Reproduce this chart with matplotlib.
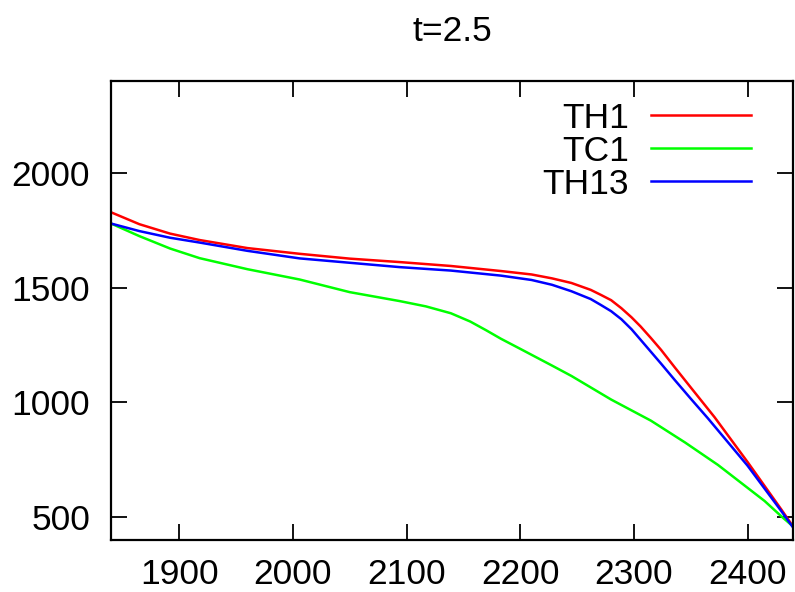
import matplotlib
matplotlib.use("Agg")
import matplotlib.pyplot as plt

plt.rcParams['font.family'] = ['Liberation Sans', 'DejaVu Sans']

# Temperature profiles at t=2.5
x_th1 = [1840, 1865, 1892, 1918, 1960, 2006, 2050, 2094, 2139, 2183, 2210, 2228,
         2245, 2262, 2271, 2280, 2289, 2298, 2306, 2315, 2324, 2336, 2350, 2371,
         2400, 2430, 2441]
th1 = [1828, 1776, 1735, 1707, 1672, 1647, 1626, 1611, 1594, 1572, 1557, 1540,
       1520, 1490, 1468, 1445, 1410, 1370, 1330, 1280, 1228, 1152, 1065, 935,
       740, 531, 452]

x_tc1 = [1840, 1865, 1892, 1918, 1960, 2006, 2050, 2094, 2117, 2139, 2156, 2170,
         2183, 2200, 2228, 2245, 2280, 2315, 2345, 2374, 2415, 2430, 2441]
tc1 = [1779, 1724, 1670, 1628, 1580, 1535, 1480, 1441, 1418, 1388, 1352, 1314,
       1277, 1233, 1160, 1115, 1012, 920, 825, 727, 570, 502, 455]

x_th13 = [1840, 1865, 1892, 1918, 1960, 2006, 2050, 2094, 2139, 2183, 2210, 2228,
          2245, 2262, 2271, 2280, 2289, 2298, 2306, 2324, 2336, 2350, 2365, 2400,
          2430, 2441]
th13 = [1779, 1746, 1717, 1696, 1660, 1627, 1608, 1589, 1574, 1552, 1533, 1512,
        1484, 1450, 1424, 1397, 1362, 1318, 1272, 1168, 1097, 1016, 931, 724,
        524, 448]

x_ticks = [1900, 2000, 2100, 2200, 2300, 2400]
y_ticks = [500, 1000, 1500, 2000]

fig = plt.figure(figsize=(7.95, 5.92), dpi=100)
ax = fig.add_axes([111 / 795, 1 - 540 / 592, (793 - 111) / 795, (540 - 81) / 592])

ax.plot(x_th1, th1, color='#ff0000', lw=1.8, label='TH1')
ax.plot(x_tc1, tc1, color='#00ff00', lw=1.8, label='TC1')
ax.plot(x_th13, th13, color='#0000ff', lw=1.8, label='TH13')

ax.set_xlim(1840, 2440)
ax.set_ylim(400, 2400)
ax.set_xticks(x_ticks)
ax.set_yticks(y_ticks)

fs = 25.5
ax.tick_params(direction='in', length=11.5, width=1.3, labelsize=fs,
               top=True, right=True, pad=15)
ax.tick_params(axis='x', pad=13)
for s in ax.spines.values():
    s.set_linewidth(1.6)

ax.set_title('t=2.5', fontsize=fs, pad=29)

leg = ax.legend(loc='upper right', bbox_to_anchor=(0.938, 0.955),
                frameon=False, markerfirst=False, fontsize=fs,
                handlelength=2.82, handletextpad=0.62, labelspacing=0.0,
                borderpad=0, borderaxespad=0)

fig.savefig('out.png', dpi=100)
